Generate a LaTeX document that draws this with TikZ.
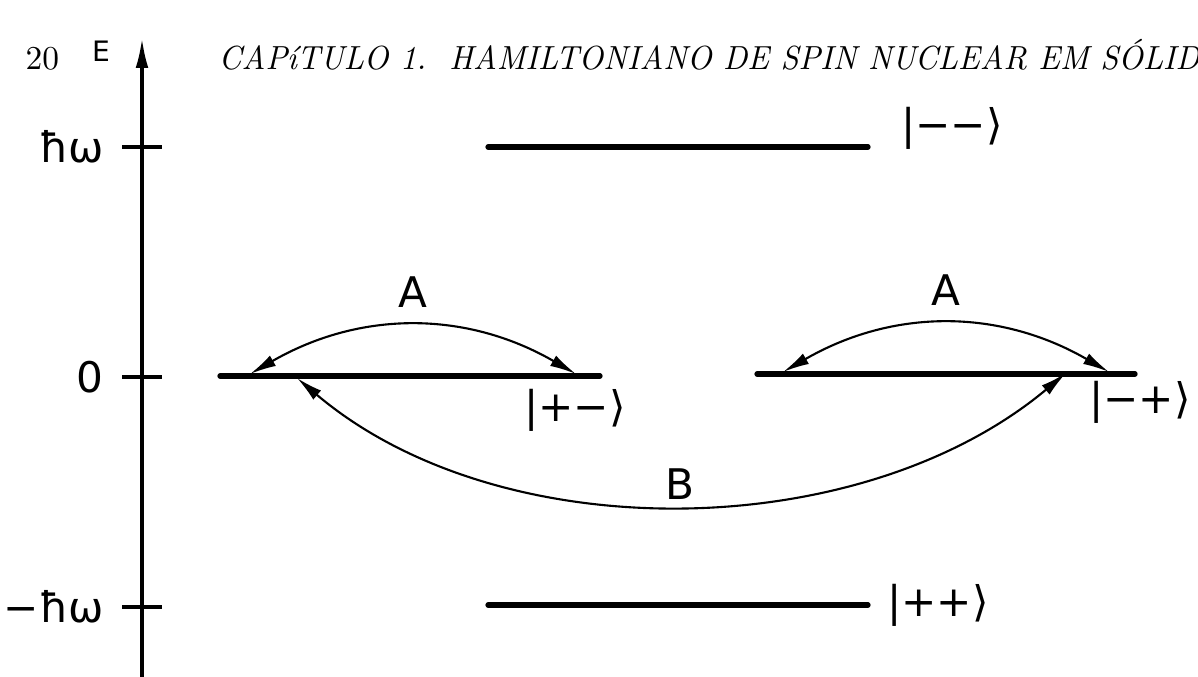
\documentclass[tikz,border=0pt]{standalone}
\usepackage{fontspec}
\newfontfamily\lblfont{DejaVu Sans}
\usetikzlibrary{arrows.meta,positioning}

\begin{document}
\begin{tikzpicture}[x=0.01cm,y=-0.01cm,>={Latex[length=7.5pt,width=3.4pt]},
  level/.style={line width=1.5pt,line cap=round},
  trans/.style={<->,line width=0.6pt},
  lbl/.style={font=\lblfont\fontsize{12}{14}\selectfont,inner sep=1pt}]
\useasboundingbox (0,0) rectangle (1198,677);
% running head of the page
\node[anchor=base west,inner sep=0pt,font=\fontsize{9.5}{11}\selectfont] (pagenum) at (25,70) {20};
\node[anchor=base west,inner sep=0pt,font=\fontsize{9.5}{11}\selectfont\itshape] (head) at (218,70) {\scalebox{0.96}[1]{CAPíTULO 1.\ \ HAMILTONIANO DE SPIN NUCLEAR EM SÓLID}};
% energy axis
\coordinate (axbot) at (142,677);
\coordinate (axtop) at (142,38);
\draw[line width=0.9pt,-{Latex[length=8.5pt,width=3.6pt]}] (axbot) -- (axtop);
\node[lbl,font=\lblfont\fontsize{8}{10}\selectfont] (E) at (101,51) {E};
\foreach \y/\t/\nm in {147/ħω/hw,377/0/zero,607/−ħω/mhw} {
  \draw[line width=0.9pt] (122,\y) -- (162,\y);
  \node[lbl,anchor=east] (\nm) at (108,\y) {\t};
}
% levels
\coordinate (top-l) at (488,147);  \coordinate (top-r) at (868,147);
\coordinate (pm-l) at (220,376);   \coordinate (pm-r) at (600,376);
\coordinate (mp-l) at (757,374);   \coordinate (mp-r) at (1135,374);
\coordinate (bot-l) at (488,605);  \coordinate (bot-r) at (868,605);
\draw[level] (top-l) -- (top-r);
\draw[level] (pm-l) -- (pm-r);
\draw[level] (mp-l) -- (mp-r);
\draw[level] (bot-l) -- (bot-r);
\node[lbl] (ketmm) at (952,128) {|−−⟩};
\node[lbl] (ketpm) at (575,410) {|+−⟩};
\node[lbl] (ketmp) at (1140,402) {|−+⟩};
\node[lbl] (ketpp) at (938,605) {|++⟩};
% transitions
\coordinate (a1) at (250,374); \coordinate (a2) at (576,374);
\coordinate (a3) at (783,372); \coordinate (a4) at (1109,372);
\coordinate (b1) at (297,378); \coordinate (b2) at (1066,373);
\draw[trans] (a1) to[bend left=30] node[lbl,above=4pt] (A1) {A} (a2);
\draw[trans] (a3) to[bend left=30] node[lbl,above=4pt] (A2) {A} (a4);
\draw[trans] (b1) .. controls (500,550) and (860,545) .. node[lbl,above=0pt] (B) {B} (b2);
\end{tikzpicture}
\end{document}
